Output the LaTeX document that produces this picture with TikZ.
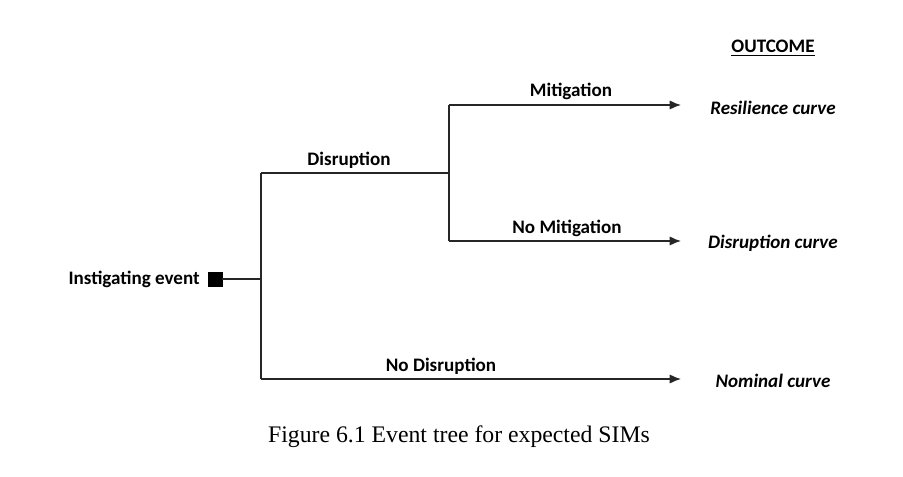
\documentclass[tikz,border=0pt]{standalone}
\usepackage{fontspec}
\setmainfont{Carlito}
\newfontfamily\captionfont{Liberation Serif}
\usetikzlibrary{arrows.meta}

\tikzset{
  branch/.style={line width=1.1pt, black!85},
  outarrow/.style={branch, -{Latex[length=8.5pt, width=7pt]}},
  label/.style={font=\fontsize{14.3}{16}\selectfont\bfseries, inner sep=0pt},
  outcome/.style={font=\fontsize{14.3}{16}\selectfont\bfseries\itshape, inner sep=0pt}
}

\begin{document}
\begin{tikzpicture}[x=0.75pt, y=-0.75pt]
        \useasboundingbox (0,0) rectangle (903,477);
        % junctions of the tree
        \coordinate (root) at (261,279);
        \coordinate (dtop) at (261,173);
        \coordinate (dbot) at (261,379);
        \coordinate (mid) at (449,173);
        \coordinate (mtop) at (449,105);
        \coordinate (mbot) at (449,241);
        % arrow tips
        \coordinate (e1) at (681,105);
        \coordinate (e2) at (681,241);
        \coordinate (e3) at (681,379);

        \node[draw, fill=black, minimum size=10.5pt, inner sep=0pt] (start) at (215,279) {};
        \node[label, anchor=east] (inst) at (200,279) {Instigating event};

        \draw[branch] (start.east)--(root);
        \draw[branch] (dtop)--(dbot);
        \draw[branch] (dtop)--(mid);
        \draw[branch] (mtop)--(mbot);
        \draw[outarrow] (mtop)--(e1);
        \draw[outarrow] (mbot)--(e2);
        \draw[outarrow] (dbot)--(e3);

        \node[label] (disr) at (349,160) {Disruption};
        \node[label] (mit) at (571,91) {Mitigation};
        \node[label] (nomit) at (567,228) {No Mitigation};
        \node[label] (nodisr) at (441,366) {No Disruption};

        \node[label] (head) at (773,48) {\underline{OUTCOME}};
        \node[outcome] (res) at (773,108) {Resilience curve};
        \node[outcome] (dcur) at (773,243) {Disruption curve};
        \node[outcome] (nom) at (773,381) {Nominal curve};

        \node[font=\captionfont\fontsize{17.8}{20}\selectfont, inner sep=0pt] (cap) at (459,437) {Figure 6.1 Event tree for expected SIMs};
    \end{tikzpicture}
\end{document}
